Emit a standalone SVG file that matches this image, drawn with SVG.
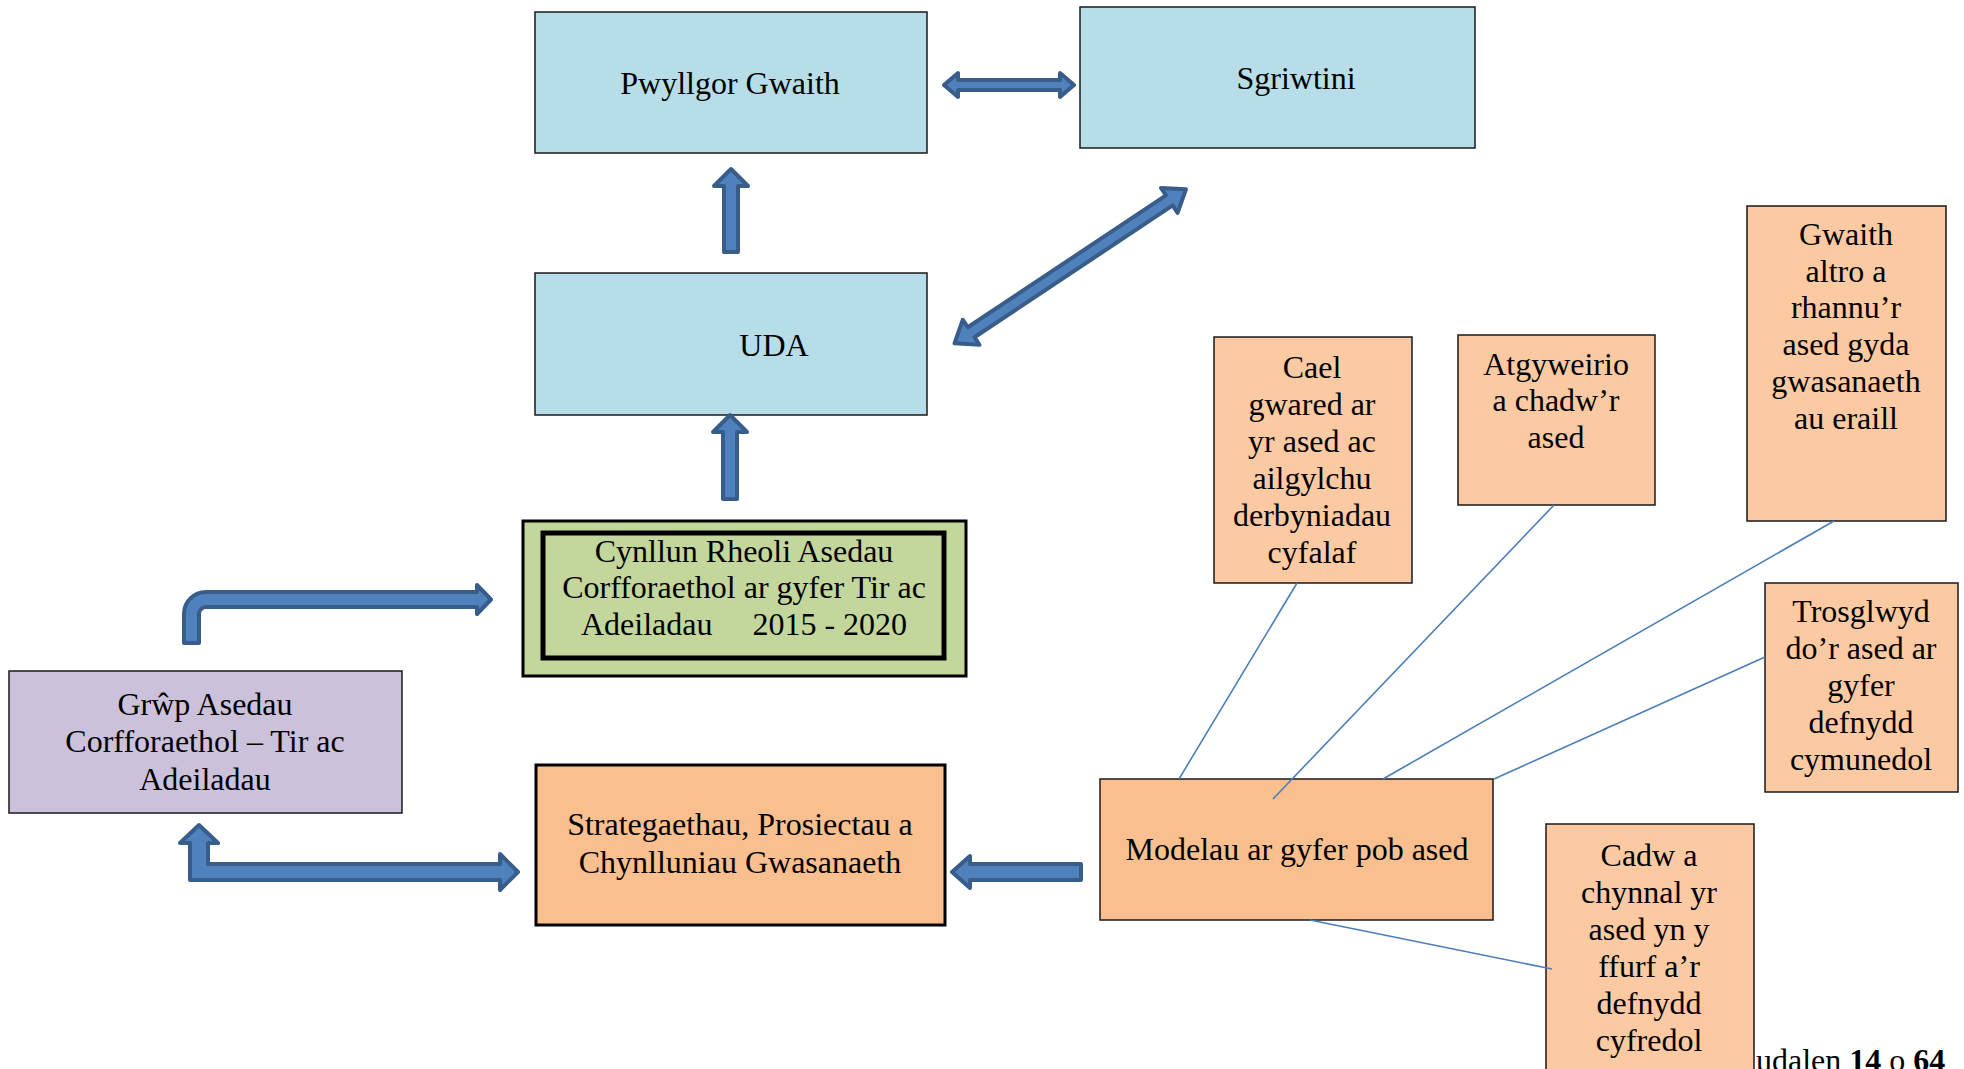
<svg xmlns="http://www.w3.org/2000/svg" width="1964" height="1069" viewBox="0 0 1964 1069">
<style>
text{font-family:"Liberation Serif","Times New Roman",serif;font-size:32px;fill:#000;text-anchor:middle}
.box{stroke:#1a1a1a;stroke-width:1.5}
.blue{fill:#b7dde8}
.org{fill:#f9bf8f}
.lorg{fill:#fbcaa2}
.thick{stroke:#000;stroke-width:3}
.arr{fill:#4f81bd;stroke:#385d8a;stroke-width:4;stroke-linejoin:round}
.ln{stroke:#4a7ebb;stroke-width:1.6;fill:none}
</style>
<rect width="1964" height="1069" fill="#fff"/>
<g id="nodes">
<g id="pwyllgor"><rect class="box blue" x="535" y="12" width="392" height="141"/><text x="730" y="94">Pwyllgor Gwaith</text></g>
<g id="sgriwtini"><rect class="box blue" x="1080" y="7" width="395" height="141"/><text x="1296" y="89">Sgriwtini</text></g>
<g id="uda"><rect class="box blue" x="535" y="273" width="392" height="142"/><text x="774" y="356">UDA</text></g>
<g id="cynllun"><rect x="523" y="521" width="443" height="155" fill="#c3d69b" stroke="#000" stroke-width="3"/><rect x="543" y="533" width="401" height="125" fill="none" stroke="#000" stroke-width="5"/>
<text x="744" y="562">Cynllun Rheoli Asedau</text><text x="744" y="598">Corfforaethol ar gyfer Tir ac</text><text x="744" y="635" style="white-space:pre">Adeiladau     2015 - 2020</text></g>
<g id="grwp"><rect class="box" fill="#ccc1da" x="9" y="671" width="393" height="142"/><text x="205" y="715">Grŵp Asedau</text><text x="205" y="752">Corfforaethol – Tir ac</text><text x="205" y="790">Adeiladau</text></g>
<g id="strategaethau"><rect class="org thick" x="536" y="765" width="409" height="160"/><text x="740" y="835">Strategaethau, Prosiectau a</text><text x="740" y="873">Chynlluniau Gwasanaeth</text></g>
<g id="modelau"><rect class="box org" x="1100" y="779" width="393" height="141"/><text x="1297" y="860">Modelau ar gyfer pob ased</text></g>
<g id="cael"><rect class="box lorg" x="1214" y="337" width="198" height="246"/><text x="1312" y="378">Cael</text><text x="1312" y="415">gwared ar</text><text x="1312" y="452">yr ased ac</text><text x="1312" y="489">ailgylchu</text><text x="1312" y="526">derbyniadau</text><text x="1312" y="563">cyfalaf</text></g>
<g id="atgyweirio"><rect class="box lorg" x="1458" y="335" width="197" height="170"/><text x="1556" y="375">Atgyweirio</text><text x="1556" y="411">a chadw’r</text><text x="1556" y="448">ased</text></g>
<g id="gwaith"><rect class="box lorg" x="1747" y="206" width="199" height="315"/><text x="1846" y="245">Gwaith</text><text x="1846" y="282">altro a</text><text x="1846" y="318">rhannu’r</text><text x="1846" y="355">ased gyda</text><text x="1846" y="392">gwasanaeth</text><text x="1846" y="429">au eraill</text></g>
<g id="trosglwyd"><rect class="box lorg" x="1765" y="583" width="193" height="209"/><text x="1861" y="622">Trosglwyd</text><text x="1861" y="659">do’r ased ar</text><text x="1861" y="696">gyfer</text><text x="1861" y="733">defnydd</text><text x="1861" y="770">cymunedol</text></g>
<g id="cadw"><rect class="box lorg" x="1546" y="824" width="208" height="270"/><text x="1649" y="866">Cadw a</text><text x="1649" y="903">chynnal yr</text><text x="1649" y="940">ased yn y</text><text x="1649" y="977">ffurf a’r</text><text x="1649" y="1014">defnydd</text><text x="1649" y="1051">cyfredol</text></g>
<g id="footer"><text x="1756" y="1071" style="text-anchor:start">udalen <tspan font-weight="bold">14</tspan> o <tspan font-weight="bold">64</tspan></text></g>
</g>
<g id="connectors">
<path class="arr" d="M731,169 L748,186 L738,186 L738,252 L724,252 L724,186 L714,186 Z"/>
<path class="arr" d="M730,415 L747,432 L737,432 L737,499 L723,499 L723,432 L713,432 Z"/>
<path class="arr" d="M944,85 L958,73 L958,80 L1060,80 L1060,73 L1074,85 L1060,97 L1060,90 L958,90 L958,97 Z"/>
<path class="arr" transform="translate(952,345) rotate(-33.64)" d="M3,0 L23,-15 L23,-6 L261,-6 L261,-15 L281,0 L261,15 L261,6 L23,6 L23,15 Z"/>
<path class="arr" d="M952,872 L970,856 L970,864 L1081,864 L1081,880 L970,880 L970,888 Z"/>
<path class="arr" d="M184,643 L184,614 A22,22 0 0 1 206,592 L477,592 L477,585 L491,599.5 L477,614 L477,607 L206,607 A7,7 0 0 0 199,614 L199,643 Z"/>
<path class="arr" d="M199,825 L218,843 L208,843 L208,864 L500,864 L500,854 L518,872 L500,890 L500,880 L190,880 L190,843 L180,843 Z"/>
<line class="ln" x1="1297" y1="583" x2="1179" y2="779"/>
<line class="ln" x1="1554" y1="505" x2="1273" y2="799"/>
<line class="ln" x1="1834" y1="521" x2="1383" y2="779"/>
<line class="ln" x1="1765" y1="657" x2="1494" y2="779"/>
<line class="ln" x1="1310" y1="920" x2="1552" y2="969"/>
</g>
</svg>
